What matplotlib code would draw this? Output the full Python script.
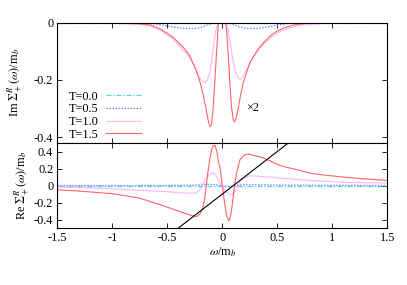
import matplotlib
matplotlib.use("Agg")
import matplotlib.pyplot as plt
from matplotlib.ticker import FormatStrFormatter

plt.rcParams["font.family"] = ["Liberation Serif", "DejaVu Serif"]
plt.rcParams["mathtext.fontset"] = "stix"
plt.rcParams["axes.unicode_minus"] = False

# --- Im part (upper panel) ---
w_t00 = [-1.5, 1.5]
im_t00 = [0.0, 0.0]

w_im_t05 = [-1.5, -0.75, -0.65, -0.55, -0.45, -0.35, -0.28, -0.2, -0.15, -0.1, -0.06,
            0.04, 0.08, 0.15, 0.22, 0.3, 0.4, 0.5, 0.6, 0.7, 1.5]
im_t05 = [0.0, 0.0, -0.002, -0.008, -0.015, -0.02, -0.021, -0.018, -0.01, -0.003, 0.0,
          0.0, -0.004, -0.014, -0.02, -0.021, -0.016, -0.008, -0.003, 0.0, 0.0]

w_im_t10 = [-1.5, -1.0, -0.75, -0.65, -0.55, -0.45, -0.35, -0.3, -0.25, -0.23, -0.2,
            -0.175, -0.155, -0.135, -0.115, -0.095, -0.075, -0.06, -0.045, -0.038,
            0.035, 0.04, 0.06, 0.08, 0.1, 0.125, 0.145, 0.164, 0.185, 0.21, 0.24,
            0.28, 0.33, 0.38, 0.45, 0.52, 0.6, 0.7, 0.85, 1.0, 1.5]
im_t10 = [-0.002, -0.002, -0.006, -0.012, -0.03, -0.057, -0.097, -0.12, -0.155, -0.175, -0.197,
          -0.205, -0.208, -0.2, -0.175, -0.13, -0.07, -0.03, -0.005, 0.0,
          0.0, -0.005, -0.04, -0.09, -0.14, -0.178, -0.194, -0.197, -0.19, -0.172, -0.15,
          -0.122, -0.095, -0.073, -0.05, -0.032, -0.02, -0.01, -0.004, -0.002, -0.002]

w_im_t15 = [-1.5, -1.2, -1.0, -0.85, -0.75, -0.65, -0.55, -0.45, -0.35, -0.3, -0.26,
            -0.23, -0.2, -0.175, -0.155, -0.135, -0.12, -0.109, -0.098, -0.085, -0.07,
            -0.055, -0.045, -0.036, 0.03, 0.04, 0.055, 0.07, 0.085, 0.1, 0.11, 0.125,
            0.145, 0.164, 0.19, 0.224, 0.25, 0.285, 0.33, 0.376, 0.43, 0.5, 0.57,
            0.65, 0.75, 0.9, 1.2, 1.5]
im_t15 = [-0.003, -0.002, -0.001, -0.002, -0.004, -0.008, -0.025, -0.05, -0.088, -0.113, -0.147,
          -0.175, -0.211, -0.25, -0.288, -0.33, -0.355, -0.363, -0.355, -0.31, -0.22,
          -0.12, -0.06, 0.0, 0.0, -0.03, -0.12, -0.22, -0.3, -0.34, -0.347, -0.335,
          -0.3, -0.258, -0.21, -0.17, -0.14, -0.117, -0.09, -0.07, -0.048, -0.029, -0.017,
          -0.008, -0.003, -0.001, -0.002, -0.003]

# --- Re part (lower panel) ---
w_re_t05 = [-1.5, -0.6, -0.3, -0.2, -0.12, -0.06, 0.0, 0.06, 0.12, 0.2, 0.35, 0.7, 1.5]
re_t05 = [0.0, 0.0, 0.003, 0.008, 0.015, 0.01, -0.005, -0.01, 0.0, 0.01, 0.008, 0.004, 0.0]

w_re_t10 = [-1.5, -1.1, -0.838, -0.536, -0.324, -0.248, -0.21, -0.188, -0.16, -0.127,
            -0.097, -0.08, -0.06, -0.04, -0.02, 0.0, 0.04, 0.085, 0.12, 0.161, 0.2,
            0.25, 0.3, 0.43, 0.525, 0.8, 1.13, 1.5]
re_t10 = [-0.015, -0.03, -0.05, -0.069, -0.089, -0.09, -0.06, -0.01, 0.06, 0.108,
          0.148, 0.148, 0.12, 0.07, 0.03, -0.02, -0.08, -0.109, -0.06, 0.048, 0.09,
          0.116, 0.112, 0.1, 0.088, 0.06, 0.037, 0.03]

w_re_t15 = [-1.5, -1.3, -1.0, -0.75, -0.657, -0.55, -0.475, -0.4, -0.324, -0.27, -0.233,
            -0.2, -0.173, -0.155, -0.136, -0.115, -0.097, -0.08, -0.065, -0.05, -0.035,
            -0.02, 0.0, 0.02, 0.04, 0.061, 0.08, 0.1, 0.115, 0.13, 0.161, 0.2, 0.236,
            0.3, 0.373, 0.45, 0.525, 0.6, 0.676, 0.8, 0.95, 1.13, 1.3, 1.5]
re_t15 = [-0.05, -0.065, -0.095, -0.148, -0.188, -0.23, -0.266, -0.3, -0.333, -0.355, -0.365,
          -0.33, -0.247, -0.1, 0.108, 0.3, 0.423, 0.47, 0.47, 0.4, 0.28,
          0.2, 0.0, -0.2, -0.36, -0.416, -0.33, -0.12, 0.03, 0.15, 0.305, 0.36, 0.372,
          0.35, 0.325, 0.28, 0.236, 0.21, 0.187, 0.146, 0.12, 0.096, 0.078, 0.06]

# straight line omega - 0.1
w_line = [-0.4, 0.6]
re_line = [-0.5, 0.5]

x_ticks = [-1.5, -1, -0.5, 0, 0.5, 1, 1.5]
im_ticks = [0, -0.2, -0.4]
re_ticks = [-0.4, -0.2, 0, 0.2, 0.4]

C_T00 = "#48dcdc"
C_T05 = "#7c7cff"
C_T10 = "#ff90ff"
C_T15 = "#ff6464"
FS = 8.8

fig = plt.figure(figsize=(4.07, 2.85), dpi=100)
ax1 = fig.add_axes([0.1408, 0.4982, 0.8108, 0.4222])
ax2 = fig.add_axes([0.1408, 0.1996, 0.8108, 0.2986])

ax1.plot(w_t00, im_t00, color=C_T00, lw=0.9, ls=(0, (4, 1.5, 1, 1.5)), label="T=0.0")
ax1.plot(w_im_t05, im_t05, color=C_T05, lw=0.9, ls=(0, (1.2, 1.2)), label="T=0.5")
ax1.plot(w_im_t10, im_t10, color=C_T10, lw=0.9, ls=(0, (1, 0.6)), label="T=1.0")
ax1.plot(w_im_t15, im_t15, color=C_T15, lw=0.8, label="T=1.5")
ax1.text(0.215, -0.3, "×2", fontsize=FS, va="center", ha="left")

ax2.plot(w_t00, im_t00, color=C_T00, lw=0.9, ls=(0, (4, 1.5, 1, 1.5)))
ax2.plot(w_re_t05, re_t05, color=C_T05, lw=0.9, ls=(0, (1.2, 1.2)))
ax2.plot(w_re_t10, re_t10, color=C_T10, lw=0.9, ls=(0, (1, 0.6)))
ax2.plot(w_re_t15, re_t15, color=C_T15, lw=0.8)
ax2.plot(w_line, re_line, color="black", lw=0.8)

for ax in (ax1, ax2):
    ax.set_xlim(-1.5, 1.5)
    ax.set_xticks(x_ticks)
    ax.tick_params(direction="in", top=True, right=True, length=3.5, width=0.6,
                   labelsize=FS, pad=3)
    for s in ax.spines.values():
        s.set_linewidth(0.8)

ax1.set_ylim(-0.421, 0)
ax1.set_yticks(im_ticks)
ax1.yaxis.set_major_formatter(FormatStrFormatter("%g"))
ax1.tick_params(labelbottom=False)
ax1.set_ylabel(r"Im $\Sigma_+^R(\omega)$/m$_b$", fontsize=FS, labelpad=6)

ax2.set_ylim(-0.5, 0.5)
ax2.set_yticks(re_ticks)
ax2.yaxis.set_major_formatter(FormatStrFormatter("%g"))
ax2.xaxis.set_major_formatter(FormatStrFormatter("%g"))
ax2.set_ylabel(r"Re $\Sigma_+^R(\omega)$/m$_b$", fontsize=FS, labelpad=1)
ax2.set_xlabel(r"$\omega$/m$_b$", fontsize=FS, labelpad=1)

ax1.legend(loc="lower left", bbox_to_anchor=(0.035, 0.02), frameon=False, fontsize=FS,
           markerfirst=False, handlelength=2.9, handletextpad=0.6, labelspacing=0.05,
           borderpad=0, borderaxespad=0)

fig.savefig("out.png", dpi=100)
